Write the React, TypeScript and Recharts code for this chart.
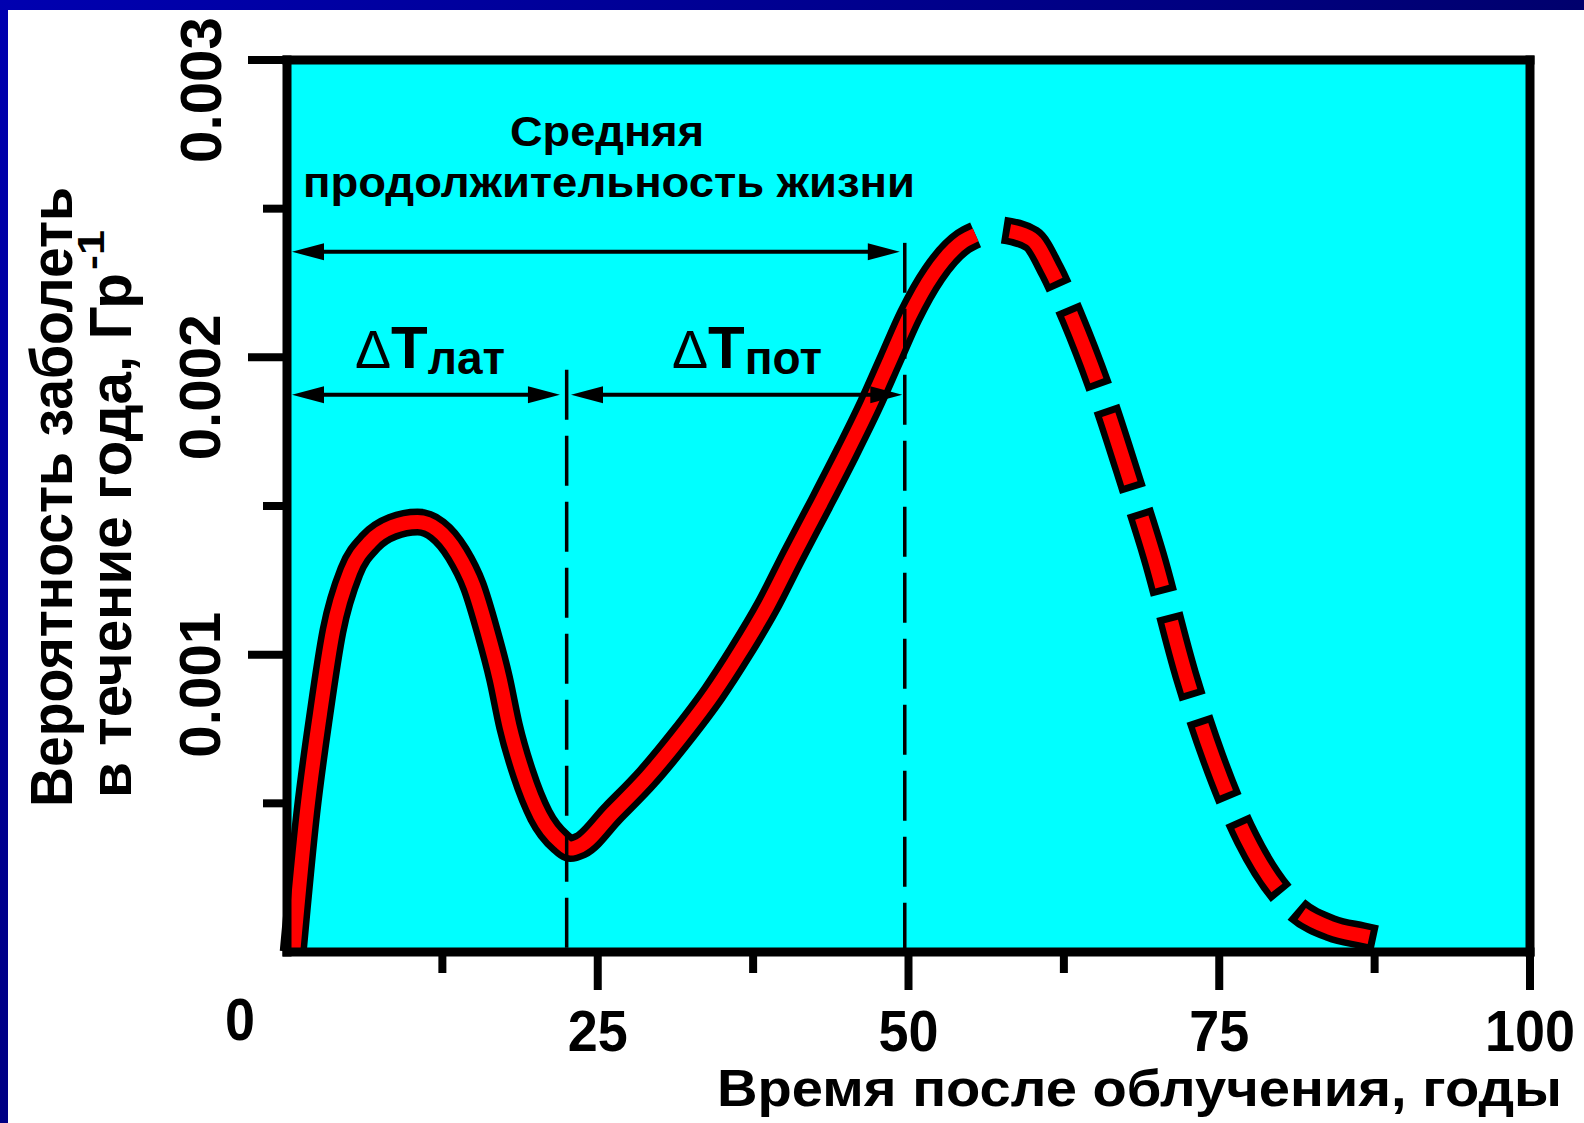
import React from 'react';
import { LineChart, Line, XAxis, YAxis, ReferenceArea, ReferenceLine } from 'recharts';

// solid part of the curve (years after exposure, risk per year per Gy)
const solidYears = [0.5, 1.6, 2.65, 3.7, 5.1, 6.7, 8.5, 10.5, 12.1, 13.7, 15.0, 16.1, 17.1, 17.9, 19.0, 20.35, 22.0, 22.8, 23.6, 26.2, 29.0, 31.6, 34.3, 36.4, 38.6, 40.7, 42.9, 45.05, 46.9, 48.5, 50.1, 52.0, 54.4, 55.4];
const solidRisk = [0, 0.00047, 0.0008, 0.00108, 0.00128, 0.00138, 0.00143, 0.001446, 0.00142, 0.00134, 0.00123, 0.00108, 0.00092, 0.00076, 0.0006, 0.00046, 0.00037, 0.000348, 0.000358, 0.000468, 0.000589, 0.00072, 0.00087, 0.001005, 0.00116, 0.001332, 0.001507, 0.001682, 0.00184, 0.00199, 0.00214, 0.00228, 0.00239, 0.002412];

// dashed part (after the peak)
const dashYears = [57.6, 59.9, 61.5, 63.15, 65.7, 68.0, 69.7, 72.3, 74.5, 77.2, 80.9, 84.0, 86.5, 88.2];
const dashRisk = [0.002428, 0.002398, 0.00229, 0.002136, 0.001857, 0.001561, 0.001335, 0.000932, 0.000653, 0.000383, 0.000155, 0.00008, 0.000055, 0.00004];

const xTicks = [0, 12.5, 25, 37.5, 50, 62.5, 75, 87.5, 100];
const xTickLabels = ['0', '', '25', '', '50', '', '75', '', '100'];
const yTicks = [0.0005, 0.001, 0.0015, 0.002, 0.0025, 0.003];
const yTickLabels = ['', '0.001', '', '0.002', '', '0.003'];

// time marks
const latentEnd = 22.5;
const lifeEnd = 49.7;
const lifeArrowLevel = 0.002355;
const periodArrowLevel = 0.001874;
const lifeLineTop = 0.002385;
const latentLineTop = 0.001958;

const solidData = solidYears.map((t, i) => ({ t, p: solidRisk[i] }));
const dashData = dashYears.map((t, i) => ({ t, p: dashRisk[i] }));

const FONT = '"Liberation Sans", Arial, Helvetica, sans-serif';
const NARROW = '"Liberation Sans Narrow", "Arial Narrow", "Liberation Sans", Arial, sans-serif';

const isMajorX = (v: number) => v % 25 === 0;
const isMajorY = (v: number) => Math.abs(v * 1000 - Math.round(v * 1000)) < 1e-6;

const BottomTick = ({ x, y, payload }: any) => {
  const v = payload.value;
  const label = xTickLabels[xTicks.indexOf(v)];
  if (v === 0) {
    return (
      <text x={x - 47} y={y + 88} textAnchor="middle" fontSize={60} fontWeight="bold" fontFamily={NARROW}
        textLength={30} lengthAdjust="spacingAndGlyphs">{label}</text>
    );
  }
  return (
    <g>
      <line x1={x} x2={x} y1={y} y2={y + (isMajorX(v) ? 38 : 21)} stroke="#000" strokeWidth={8} />
      {label && (
        <text x={x} y={y + 99} textAnchor="middle" fontSize={58} fontWeight="bold" fontFamily={NARROW}
          textLength={30 * label.length} lengthAdjust="spacingAndGlyphs">{label}</text>
      )}
    </g>
  );
};

const TopTick = ({ x, y, payload }: any) => (
  <line x1={x} x2={x} y1={y} y2={y - (isMajorX(payload.value) ? 37 : 22)} stroke="#000" strokeWidth={8} />
);

const LeftTick = ({ x, y, payload }: any) => {
  const v = payload.value;
  const label = yTickLabels[yTicks.indexOf(v)];
  const cx = x - 87;
  const cy = y + 30;
  return (
    <g>
      <line x1={x} x2={x - (isMajorY(v) ? 39 : 24)} y1={y} y2={y} stroke="#000" strokeWidth={8} />
      {label && (
        <text x={cx} y={cy} transform={`rotate(-90 ${cx} ${cy})`} textAnchor="middle" dominantBaseline="central"
          fontSize={58} fontWeight="bold" fontFamily={NARROW} textLength={146} lengthAdjust="spacingAndGlyphs">
          {label}
        </text>
      )}
    </g>
  );
};

const RightTick = ({ x, y, payload }: any) => (
  <line x1={x} x2={x + (isMajorY(payload.value) ? 40 : 23)} y1={y} y2={y} stroke="#000" strokeWidth={8} />
);

const DoubleArrow = (props: any) => {
  const { x1, y1, x2 } = props;
  const left = Math.min(x1, x2);
  const right = Math.max(x1, x2);
  const y = y1;
  const head = 32;
  const half = 8.5;
  return (
    <g>
      <line x1={left + head - 4} x2={right - head + 4} y1={y} y2={y} stroke="#000" strokeWidth={4} />
      <polygon points={`${left},${y} ${left + head},${y - half} ${left + head},${y + half}`} fill="#000" />
      <polygon points={`${right},${y} ${right - head},${y - half} ${right - head},${y + half}`} fill="#000" />
    </g>
  );
};

const axisLine = { stroke: '#000', strokeWidth: 9, strokeLinecap: 'square' as const };

export default function App() {
  return (
    <div style={{ position: 'absolute', left: 0, top: 0, width: 1584, height: 1123, overflow: 'hidden',
      background: 'linear-gradient(135deg, #0000b0 0%, #000080 45%, #000033 100%)' }}>
      <div style={{ position: 'absolute', left: 8, top: 10, right: 0, bottom: 0, background: '#fff' }} />
      <div style={{ position: 'absolute', left: 0, top: 0 }}>
        <LineChart width={1584} height={1123} margin={{ top: 0, right: 0, bottom: 0, left: 7 }}>
          <XAxis xAxisId="b" dataKey="t" type="number" domain={[0, 100]} ticks={xTicks} interval={0}
            orientation="bottom" height={171} tickLine={false} tickSize={0} tickMargin={0}
            axisLine={axisLine} tick={<BottomTick />} />
          <XAxis xAxisId="t" dataKey="t" type="number" domain={[0, 100]} ticks={xTicks} interval={0}
            orientation="top" height={60} tickLine={false} tickSize={0} tickMargin={0}
            axisLine={axisLine} tick={<TopTick />} />
          <YAxis yAxisId="l" type="number" domain={[0, 0.003]} ticks={yTicks} interval={0}
            orientation="left" width={280} tickLine={false} tickSize={0} tickMargin={0}
            axisLine={axisLine} tick={<LeftTick />} />
          <YAxis yAxisId="r" type="number" domain={[0, 0.003]} ticks={yTicks} interval={0}
            orientation="right" width={54} tickLine={false} tickSize={0} tickMargin={0}
            axisLine={axisLine} tick={<RightTick />} />

          <ReferenceArea xAxisId="b" yAxisId="l" x1={0} x2={100} y1={0} y2={0.003}
            fill="#00ffff" fillOpacity={1} stroke="none" />

          <Line xAxisId="b" yAxisId="l" data={solidData} dataKey="p" type="monotone" stroke="#000"
            strokeWidth={27} dot={false} activeDot={false} strokeLinecap="butt" isAnimationActive={false} />
          <Line xAxisId="b" yAxisId="l" data={solidData} dataKey="p" type="monotone" stroke="#ff0000"
            strokeWidth={14} dot={false} activeDot={false} strokeLinecap="butt" isAnimationActive={false} />
          <Line xAxisId="b" yAxisId="l" data={dashData} dataKey="p" type="monotone" stroke="#000"
            strokeWidth={27} strokeDasharray="86 22" dot={false} activeDot={false} strokeLinecap="butt"
            isAnimationActive={false} />
          <Line xAxisId="b" yAxisId="l" data={dashData} dataKey="p" type="monotone" stroke="#ff0000"
            strokeWidth={14} strokeDasharray="72 36" strokeDashoffset={-7} dot={false} activeDot={false}
            strokeLinecap="butt" isAnimationActive={false} />

          <ReferenceLine xAxisId="b" yAxisId="l" segment={[{ x: lifeEnd, y: lifeLineTop }, { x: lifeEnd, y: 0 }]}
            stroke="#000" strokeWidth={3.5} strokeDasharray="50 16" />
          <ReferenceLine xAxisId="b" yAxisId="l" segment={[{ x: latentEnd, y: latentLineTop }, { x: latentEnd, y: 0 }]}
            stroke="#000" strokeWidth={3.5} strokeDasharray="50 16" />
          <ReferenceLine xAxisId="b" yAxisId="l" segment={[{ x: 0.4, y: lifeArrowLevel }, { x: 49.3, y: lifeArrowLevel }]}
            shape={DoubleArrow} />
          <ReferenceLine xAxisId="b" yAxisId="l" segment={[{ x: 0.4, y: periodArrowLevel }, { x: 21.96, y: periodArrowLevel }]}
            shape={DoubleArrow} />
          <ReferenceLine xAxisId="b" yAxisId="l" segment={[{ x: 22.85, y: periodArrowLevel }, { x: 49.5, y: periodArrowLevel }]}
            shape={DoubleArrow} />
        </LineChart>
      </div>

      <svg width={1584} height={1123} style={{ position: 'absolute', left: 0, top: 0, pointerEvents: 'none' }}>
        <g fontFamily={FONT} fontWeight="bold" fill="#000">
          <text x={607} y={146} textAnchor="middle" fontSize={42} textLength={194} lengthAdjust="spacingAndGlyphs">Средняя</text>
          <text x={609} y={197} textAnchor="middle" fontSize={42} textLength={612} lengthAdjust="spacingAndGlyphs">продолжительность жизни</text>

          <text x={355} y={368}>
            <tspan fontWeight="normal" fontSize={54}>Δ</tspan>
            <tspan fontSize={60}>T</tspan>
            <tspan fontSize={46} dy={6}>лат</tspan>
          </text>
          <text x={672} y={368}>
            <tspan fontWeight="normal" fontSize={54}>Δ</tspan>
            <tspan fontSize={60}>T</tspan>
            <tspan fontSize={46} dy={6}>пот</tspan>
          </text>
        </g>

        <g fontFamily={NARROW} fontWeight="bold" fill="#000">
          <text x={72} y={497} transform="rotate(-90 72 497)" textAnchor="middle" fontSize={60}
            textLength={620} lengthAdjust="spacingAndGlyphs">Вероятность заболеть</text>
          <text x={131} y={798} transform="rotate(-90 131 798)" textAnchor="start" fontSize={60}
            textLength={525} lengthAdjust="spacingAndGlyphs">в течение года, Гр</text>
          <text x={104} y={270} transform="rotate(-90 104 270)" textAnchor="start" fontSize={36}
            textLength={40} lengthAdjust="spacingAndGlyphs">-1</text>

          <text x={717} y={1106} fontSize={52} textLength={845} lengthAdjust="spacingAndGlyphs">Время после облучения, годы</text>
        </g>
      </svg>
    </div>
  );
}
